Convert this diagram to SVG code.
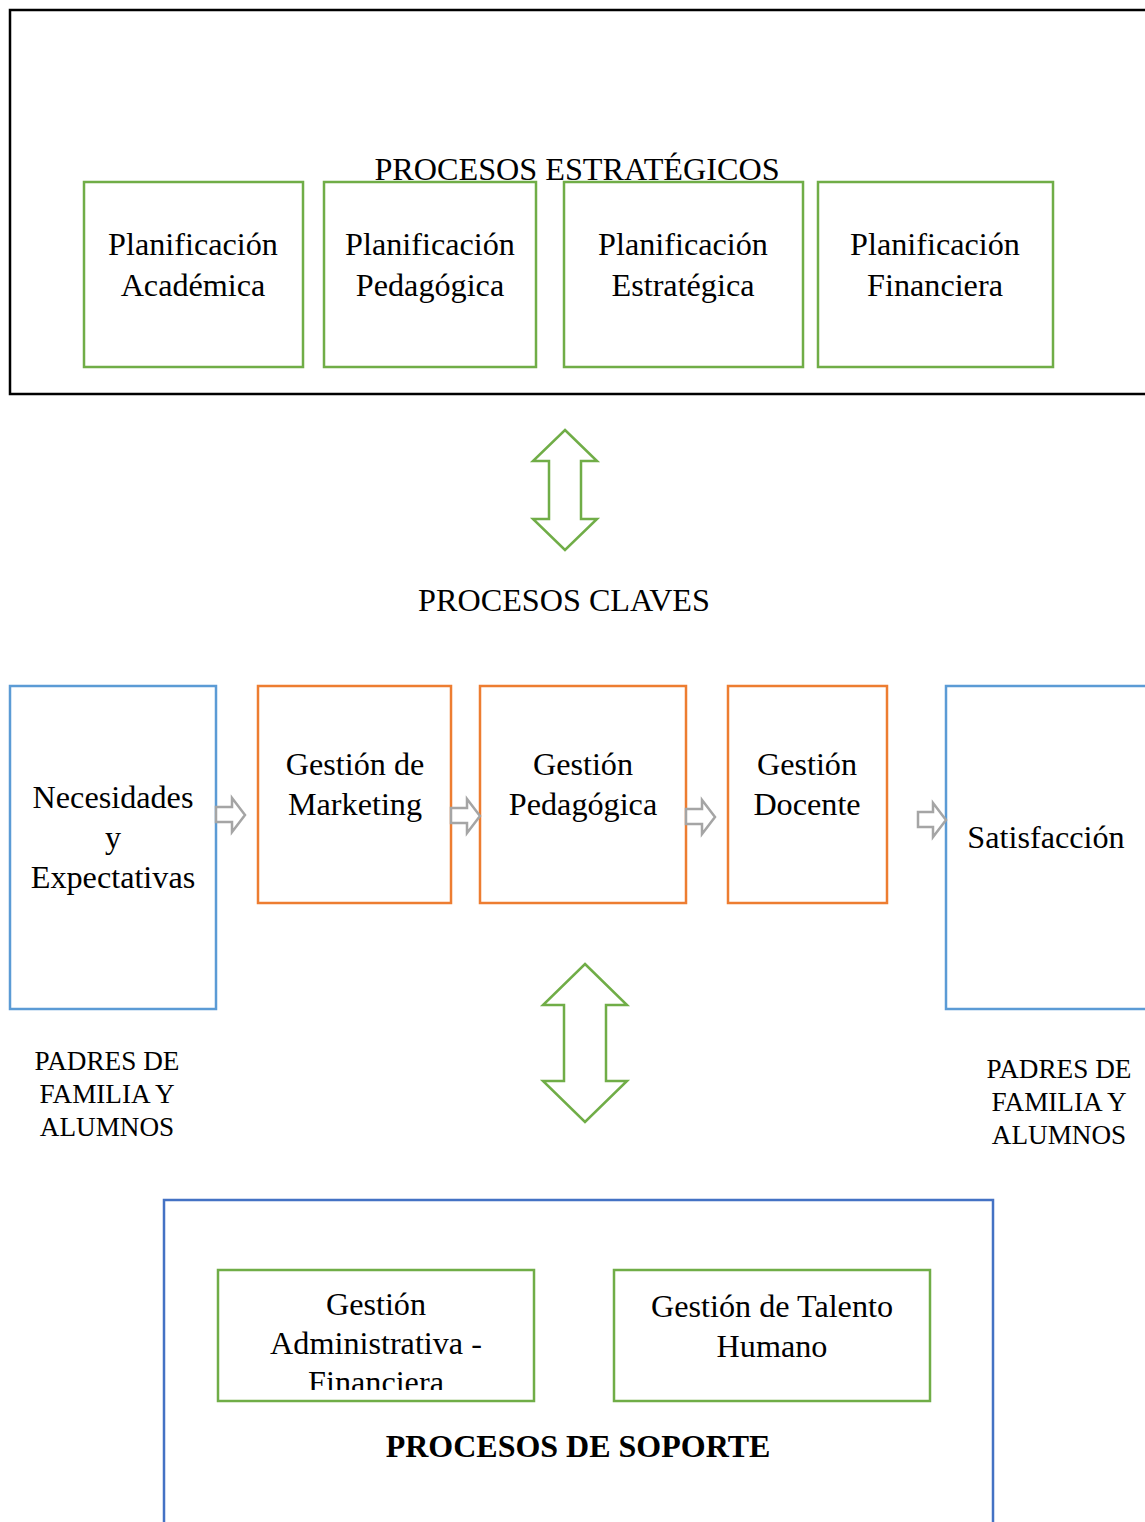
<svg xmlns="http://www.w3.org/2000/svg" width="1145" height="1522" viewBox="0 0 1145 1522">
<defs>
<style>
.t{font-family:"Liberation Serif","Times New Roman",serif;font-size:32.2px;fill:#000;text-anchor:middle}
.s{font-family:"Liberation Serif","Times New Roman",serif;font-size:27.2px;fill:#000;text-anchor:middle}
.b{font-family:"Liberation Serif","Times New Roman",serif;font-size:32px;font-weight:bold;fill:#000;text-anchor:middle}
.g{fill:#fff;stroke:#70AD47;stroke-width:2.5}
.o{fill:#fff;stroke:#ED7D31;stroke-width:2.5}
.lb{fill:#fff;stroke:#5B9BD5;stroke-width:2.5}
.ga{fill:#fff;stroke:#A5A5A5;stroke-width:2.5;stroke-linejoin:miter}
.da{fill:#fff;stroke:#70AD47;stroke-width:2.5}
</style>
<clipPath id="clipAF"><rect x="218" y="1270" width="316" height="120"/></clipPath>
</defs>
<rect width="1145" height="1522" fill="#fff"/>

<g id="estrategicos">
<rect x="10" y="10" width="1145" height="384" fill="#fff" stroke="#000" stroke-width="2.5"/>
<text class="t" x="577" y="180">PROCESOS ESTRATÉGICOS</text>
</g>
<g id="plan-academica"><rect class="g" x="84" y="182" width="219" height="185"/><text class="t" x="193" y="255">Planificación</text><text class="t" x="193" y="296">Académica</text></g>
<g id="plan-pedagogica"><rect class="g" x="324" y="182" width="212" height="185"/><text class="t" x="430" y="255">Planificación</text><text class="t" x="430" y="296">Pedagógica</text></g>
<g id="plan-estrategica"><rect class="g" x="564" y="182" width="239" height="185"/><text class="t" x="683" y="255">Planificación</text><text class="t" x="683" y="296">Estratégica</text></g>
<g id="plan-financiera"><rect class="g" x="818" y="182" width="235" height="185"/><text class="t" x="935" y="255">Planificación</text><text class="t" x="935" y="296">Financiera</text></g>

<g id="claves-label"><text class="t" x="564" y="611">PROCESOS CLAVES</text></g>

<g id="necesidades"><rect class="lb" x="10" y="686" width="206" height="323"/><text class="t" x="113" y="808">Necesidades</text><text class="t" x="113" y="848">y</text><text class="t" x="113" y="888">Expectativas</text></g>
<g id="marketing"><rect class="o" x="258" y="686" width="193" height="217"/><text class="t" x="355" y="775">Gestión de</text><text class="t" x="355" y="815">Marketing</text></g>
<g id="pedagogica"><rect class="o" x="480" y="686" width="206" height="217"/><text class="t" x="583" y="775">Gestión</text><text class="t" x="583" y="815">Pedagógica</text></g>
<g id="docente"><rect class="o" x="728" y="686" width="159" height="217"/><text class="t" x="807" y="775">Gestión</text><text class="t" x="807" y="815">Docente</text></g>
<g id="satisfaccion"><rect class="lb" x="946" y="686" width="210" height="323"/><text class="t" x="1046" y="848">Satisfacción</text></g>

<g id="padres-izq"><text class="s" x="107" y="1070">PADRES DE</text><text class="s" x="107" y="1103">FAMILIA Y</text><text class="s" x="107" y="1136">ALUMNOS</text></g>
<g id="padres-der"><text class="s" x="1059" y="1078">PADRES DE</text><text class="s" x="1059" y="1111">FAMILIA Y</text><text class="s" x="1059" y="1144">ALUMNOS</text></g>

<g id="soporte">
<rect x="164" y="1200" width="829" height="340" fill="#fff" stroke="#4472C4" stroke-width="2.5"/>
<text class="b" x="578" y="1457">PROCESOS DE SOPORTE</text>
</g>
<g id="admin-fin"><rect class="g" x="218" y="1270" width="316" height="131"/>
<g clip-path="url(#clipAF)"><text class="t" x="376" y="1315">Gestión</text><text class="t" x="376" y="1354">Administrativa -</text><text class="t" x="376" y="1393">Financiera</text></g></g>
<g id="talento"><rect class="g" x="614" y="1270" width="316" height="131"/><text class="t" x="772" y="1317">Gestión de Talento</text><text class="t" x="772" y="1357">Humano</text></g>

<g id="connectors">
<path class="ga" d="M216,807 H232 V798 L245,815 L232,832 V822 H216 Z"/>
<path class="ga" d="M451,808 H467 V799 L480,816 L467,833 V823 H451 Z"/>
<path class="ga" d="M686,809 H702 V800 L715,817 L702,834 V824 H686 Z"/>
<path class="ga" d="M918,812 H933 V803 L946,820 L933,837 V827 H918 Z"/>
<path class="da" d="M565,430 L597,461 H581 V519 H597 L565,550 L533,519 H549 V461 H533 Z"/>
<path class="da" d="M585,964 L627,1005 H606 V1081 H627 L585,1122 L543,1081 H564 V1005 H543 Z"/>
</g>
</svg>
